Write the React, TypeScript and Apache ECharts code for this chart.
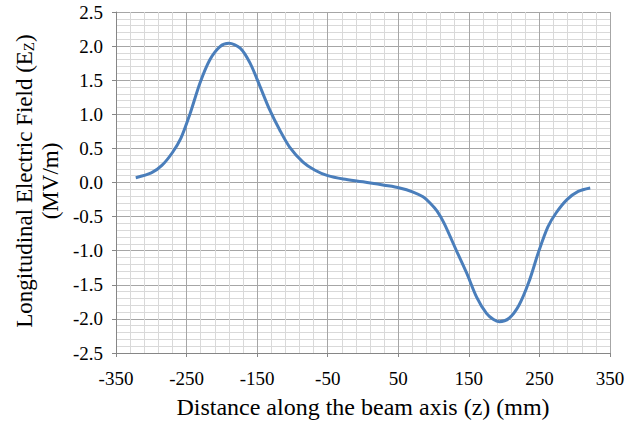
import React, { useEffect, useRef } from "react";
import * as echarts from "echarts";

const zValues = [-322, -300, -285, -270, -258, -245, -231, -217, -203, -190, -174, -160, -146, -132, -118, -104, -85, -68, -50, -28, 0, 30, 52, 71, 85, 95, 105, 115, 132, 147, 161, 175, 185, 193, 207, 221, 235, 249, 262, 274, 289, 305, 322];
const eValues = [0.07, 0.14, 0.25, 0.44, 0.65, 1.01, 1.46, 1.8, 1.99, 2.04, 1.97, 1.75, 1.41, 1.06, 0.77, 0.52, 0.3, 0.18, 0.1, 0.05, 0.01, -0.04, -0.08, -0.14, -0.21, -0.3, -0.42, -0.6, -0.99, -1.33, -1.68, -1.92, -2.01, -2.04, -1.99, -1.8, -1.46, -1.01, -0.65, -0.44, -0.25, -0.13, -0.08];

const xTitle = "Distance along the beam axis (z) (mm)";
const yTitleMain = "Longitudinal Electric Field (E";
const yTitleSub = "Z";
const yTitleUnit = "(MV/m)";

const FONT = "Liberation Serif, Times New Roman, serif";

export default function App() {
  const ref = useRef<HTMLDivElement>(null);
  useEffect(() => {
    if (!ref.current) return;
    const chart = echarts.init(ref.current, undefined, { renderer: "svg" });
    const data = zValues.map((z, i) => [z, eValues[i]]);
    const tickRich = { t: { fontFamily: FONT, fontSize: 19, color: "#000" } };
    chart.setOption({
      animation: false,
      backgroundColor: "#ffffff",
      textStyle: { fontFamily: FONT },
      grid: { left: 116, right: 25, top: 12, bottom: 73, containLabel: false },
      xAxis: {
        type: "value",
        min: -350,
        max: 350,
        interval: 100,
        name: xTitle,
        nameLocation: "middle",
        nameGap: 42,
        nameTextStyle: { fontFamily: FONT, fontSize: 24, color: "#000" },
        axisLine: { show: true, onZero: false, lineStyle: { color: "#868686", width: 1 } },
        axisTick: { show: true, length: 4, lineStyle: { color: "#868686" } },
        axisLabel: {
          fontFamily: FONT,
          fontSize: 19,
          color: "#000",
          margin: 16,
          formatter: (v: number) => "{t|" + v + "}",
          rich: tickRich,
        },
        splitLine: { show: true, lineStyle: { color: "#a6a6a6", width: 1 } },
        minorTick: { show: false, splitNumber: 5 },
        minorSplitLine: { show: true, lineStyle: { color: "#d9d9d9", width: 1 } },
      },
      yAxis: {
        type: "value",
        min: -2.5,
        max: 2.5,
        interval: 0.5,
        axisLine: { show: true, onZero: false, lineStyle: { color: "#868686", width: 1 } },
        axisTick: { show: true, length: 4, lineStyle: { color: "#868686" } },
        axisLabel: {
          fontFamily: FONT,
          fontSize: 19,
          color: "#000",
          margin: 13,
          formatter: (v: number) => "{t|" + v.toFixed(1) + "}",
          rich: tickRich,
        },
        splitLine: { show: true, lineStyle: { color: "#a6a6a6", width: 1 } },
        minorTick: { show: false, splitNumber: 5 },
        minorSplitLine: { show: true, lineStyle: { color: "#d9d9d9", width: 1 } },
      },
      graphic: [
        {
          type: "text",
          x: 37,
          y: 181,
          rotation: Math.PI / 2,
          style: {
            text: "{m|" + yTitleMain + "}{s|" + yTitleSub + "}{m|)}\n{m|" + yTitleUnit + "}",
            align: "center",
            verticalAlign: "middle",
            fill: "#000",
            rich: {
              m: { fontFamily: FONT, fontSize: 23, lineHeight: 26, fill: "#000" },
              s: { fontFamily: FONT, fontSize: 15, lineHeight: 26, fill: "#000", padding: [10, 0, 0, 0] },
            },
          },
        },
      ],
      series: [
        {
          type: "line",
          data,
          smooth: 0.3,
          showSymbol: false,
          lineStyle: { color: "#4a7ebb", width: 3 },
          itemStyle: { color: "#4a7ebb" },
        },
      ],
    });
    return () => chart.dispose();
  }, []);
  return <div ref={ref} style={{ position: "fixed", left: 0, top: 0, width: 635, height: 426 }} />;
}
